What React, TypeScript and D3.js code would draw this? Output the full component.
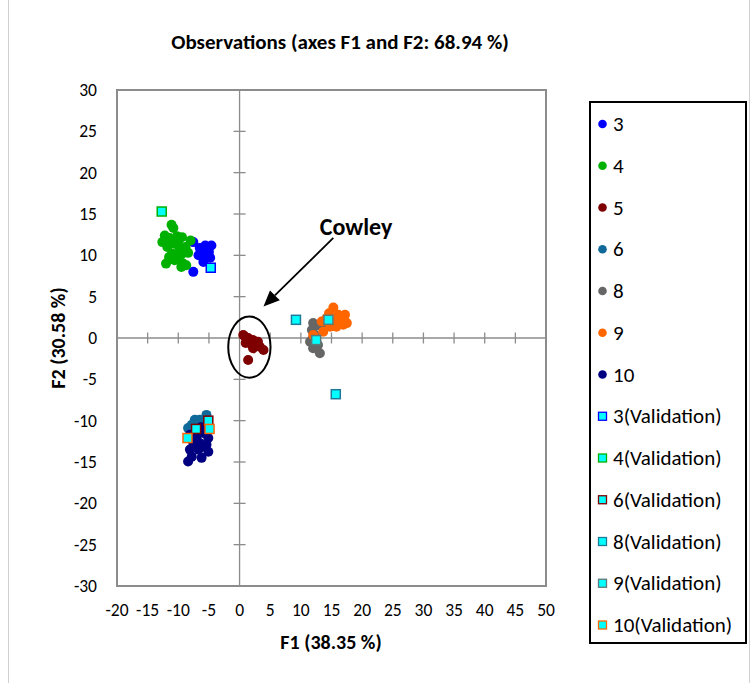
import React from "react";
import * as d3 from "d3";

// Observation scores on the first two factorial axes, per class
const class3: [number, number][] = [
  [-7.55, 11.6], [-5.6, 11.2], [-4.6, 11.2], [-6.2, 10.4], [-6.7, 10.0], [-5.6, 9.8],
  [-4.8, 9.7], [-5.2, 10.6], [-7.55, 8.0], [-5.9, 9.2], [-6.5, 10.9], [-5.0, 10.4],
];
const class4: [number, number][] = [
  [-11.1, 13.7], [-10.8, 13.3], [-12.2, 12.4], [-11.4, 12.1], [-10.2, 12.3], [-9.4, 12.2],
  [-10.7, 11.4], [-11.8, 11.0], [-9.8, 10.8], [-8.8, 11.0], [-11.0, 10.2], [-9.5, 10.1],
  [-8.4, 10.3], [-12.0, 9.0], [-10.6, 9.4], [-9.2, 9.0], [-9.5, 8.6], [-10.2, 9.7],
  [-11.5, 9.8], [-8.0, 11.8], [-12.6, 11.6], [-10.0, 11.7], [-8.7, 8.8],
];
const class5: [number, number][] = [
  [0.6, 0.36], [1.4, 0.0], [2.2, -0.25], [2.8, -0.65], [3.3, -1.05], [3.9, -1.45],
  [2.2, -1.25], [1.4, -2.66], [0.9, 0.15], [3.0, -0.45], [2.0, -0.85], [1.0, -0.6],
];
const class6: [number, number][] = [
  [-7.3, -9.9], [-5.4, -9.3], [-8.4, -10.9], [-6.5, -9.9], [-5.8, -10.3], [-7.8, -10.5],
];
const class8: [number, number][] = [
  [12.0, 1.8], [11.8, 0.97], [11.5, -0.45], [12.0, -1.25], [13.1, -1.85], [12.8, -0.85],
  [13.65, 1.37], [12.3, 0.36], [12.6, 1.5], [11.9, -0.1],
];
const class9: [number, number][] = [
  [15.3, 3.7], [17.2, 2.8], [16.65, 2.2], [17.5, 1.8], [14.2, 2.4], [13.4, 2.0],
  [14.75, 1.37], [15.8, 1.37], [13.65, 0.76], [12.0, 0.36], [16.1, 2.8], [15.3, 2.0],
  [16.9, 1.6], [14.6, 3.0],
];
const class10: [number, number][] = [
  [-8.1, -11.7], [-7.0, -11.9], [-5.9, -11.5], [-5.1, -12.1], [-7.55, -12.7], [-6.5, -12.7],
  [-5.4, -12.9], [-8.1, -13.5], [-6.7, -13.5], [-5.1, -13.75], [-7.8, -14.35], [-6.2, -14.5],
  [-8.4, -14.95], [-5.9, -13.1], [-7.0, -11.1], [-6.3, -10.8],
];

// Validation observations
const val3: [number, number][] = [[-4.7, 8.5]];
const val4: [number, number][] = [[-12.7, 15.3]];
const val6: [number, number][] = [[-5.1, -10.0], [-7.1, -11.0]];
const val8: [number, number][] = [[9.2, 2.2], [15.7, -6.8]];
const val9: [number, number][] = [[14.5, 2.2], [12.5, -0.25]];
const val10: [number, number][] = [[-4.9, -11.0], [-8.5, -12.1]];

const xTicks = [-20, -15, -10, -5, 0, 5, 10, 15, 20, 25, 30, 35, 40, 45, 50];
const yTicks = [30, 25, 20, 15, 10, 5, 0, -5, -10, -15, -20, -25, -30];

type Series = { name: string; data: [number, number][]; color: string; validation: boolean };

const series: Series[] = [
  { name: "3", data: class3, color: "#0000ff", validation: false },
  { name: "4", data: class4, color: "#00b000", validation: false },
  { name: "5", data: class5, color: "#7f0000", validation: false },
  { name: "6", data: class6, color: "#0f6a9a", validation: false },
  { name: "8", data: class8, color: "#666666", validation: false },
  { name: "9", data: class9, color: "#ff6600", validation: false },
  { name: "10", data: class10, color: "#000080", validation: false },
  { name: "3(Validation)", data: val3, color: "#0000ff", validation: true },
  { name: "4(Validation)", data: val4, color: "#00b000", validation: true },
  { name: "6(Validation)", data: val6, color: "#7f0000", validation: true },
  { name: "8(Validation)", data: val8, color: "#1f7a9a", validation: true },
  { name: "9(Validation)", data: val9, color: "#5a7a7a", validation: true },
  { name: "10(Validation)", data: val10, color: "#ff6600", validation: true },
];

// Highlighted group annotation
const cowleyCenter: [number, number] = [1.6, -1.1];
const cowleyRadii: [number, number] = [3.45, 3.7];
const arrowFrom: [number, number] = [15.3, 12.1];
const arrowTo: [number, number] = [3.9, 3.8];
const cowleyLabel: [number, number] = [19.0, 12.4];

const FONT = "Carlito, Lato, 'Open Sans', sans-serif";

export default function App() {
  const W = 753;
  const H = 683;
  const left = 117, right = 546, top = 90, bottom = 586;
  const x = d3.scaleLinear().domain([-20, 50]).range([left, right]);
  const y = d3.scaleLinear().domain([-30, 30]).range([bottom, top]);
  const x0 = x(0);
  const y0 = y(0);

  const legendX = 590, legendY = 102, legendW = 156, legendH = 541;
  const itemY0 = 124, itemStep = 41.75;

  const ax = x(arrowFrom[0]), ay = y(arrowFrom[1]);
  const bx = x(arrowTo[0]), by = y(arrowTo[1]);
  const ang = Math.atan2(by - ay, bx - ax);
  const headLen = 16, headW = 7;
  const hx = bx - headLen * Math.cos(ang), hy = by - headLen * Math.sin(ang);
  const px = -Math.sin(ang) * headW, py = Math.cos(ang) * headW;

  return (
    <svg width={W} height={H} style={{ position: "absolute", left: 0, top: 0, background: "#fff" }} fontFamily={FONT}>
      <line x1={8.5} y1={0} x2={8.5} y2={H} stroke="#d0d0d0" />
      <line x1={749.5} y1={0} x2={749.5} y2={H} stroke="#d0d0d0" />

      <text x={340} y={49} textAnchor="middle" fontSize={21} fontWeight="bold" fill="#000">
        Observations (axes F1 and F2: 68.94 %)
      </text>

      {/* plot frame */}
      <rect x={left} y={top} width={right - left} height={bottom - top} fill="none" stroke="#8c8c8c" strokeWidth={2} />

      {/* zero axes */}
      <line x1={left} x2={right} y1={y0} y2={y0} stroke="#8c8c8c" strokeWidth={1.3} />
      <line x1={x0} x2={x0} y1={top} y2={bottom} stroke="#8c8c8c" strokeWidth={1.3} />
      {xTicks.filter((t) => t !== -20 && t !== 50 && t !== 0).map((t) => (
        <line key={"xt" + t} x1={x(t)} x2={x(t)} y1={y0 - 5.5} y2={y0 + 5.5} stroke="#8c8c8c" strokeWidth={1.3} />
      ))}
      {yTicks.filter((t) => t !== 30 && t !== -30 && t !== 0).map((t) => (
        <line key={"yt" + t} x1={x0 - 6} x2={x0 + 6} y1={y(t)} y2={y(t)} stroke="#8c8c8c" strokeWidth={1.3} />
      ))}

      {xTicks.map((t) => (
        <text key={"xl" + t} x={x(t)} y={616} textAnchor="middle" fontSize={17.5} fill="#000">{t}</text>
      ))}
      {yTicks.map((t) => (
        <text key={"yl" + t} x={97} y={y(t) + 6} textAnchor="end" fontSize={17.5} fill="#000">{t}</text>
      ))}

      <text x={331} y={649} textAnchor="middle" fontSize={20} fontWeight="bold" fill="#000">F1 (38.35 %)</text>
      <text transform={`translate(65,${y0}) rotate(-90)`} textAnchor="middle" fontSize={20} fontWeight="bold" fill="#000">F2 (30.58 %)</text>

      {/* observations */}
      {series.filter((s) => !s.validation).map((s) =>
        s.data.map((d, i) => (
          <circle key={s.name + i} cx={x(d[0])} cy={y(d[1])} r={5} fill={s.color} />
        ))
      )}
      {series.filter((s) => s.validation).map((s) =>
        s.data.map((d, i) => (
          <rect key={s.name + i} x={x(d[0]) - 4.5} y={y(d[1]) - 4.5} width={9} height={9} fill="#00ffff" stroke={s.color} strokeWidth={1.5} />
        ))
      )}

      {/* Cowley annotation */}
      <ellipse cx={x(cowleyCenter[0])} cy={y(cowleyCenter[1])}
        rx={x(cowleyCenter[0] + cowleyRadii[0]) - x(cowleyCenter[0])}
        ry={y(cowleyCenter[1]) - y(cowleyCenter[1] + cowleyRadii[1])}
        fill="none" stroke="#000" strokeWidth={2} />
      <line x1={ax} y1={ay} x2={hx} y2={hy} stroke="#000" strokeWidth={1.8} />
      <polygon points={`${bx},${by} ${hx + px},${hy + py} ${hx - px},${hy - py}`} fill="#000" />
      <text x={x(cowleyLabel[0])} y={y(cowleyLabel[1])} textAnchor="middle" fontSize={24} fontWeight="bold" fill="#000">Cowley</text>

      {/* legend */}
      <rect x={legendX} y={legendY} width={legendW} height={legendH} fill="#fff" stroke="#000" strokeWidth={2} />
      {series.map((s, i) => {
        const cy = itemY0 + i * itemStep;
        return (
          <g key={"lg" + s.name}>
            {s.validation ? (
              <rect x={598.5} y={cy - 4} width={8} height={8} fill="#00ffff" stroke={s.color} strokeWidth={1.3} />
            ) : (
              <circle cx={602.5} cy={cy} r={4.3} fill={s.color} />
            )}
            <text x={613} y={cy + 7} fontSize={21} fill="#000">{s.name}</text>
          </g>
        );
      })}
    </svg>
  );
}
